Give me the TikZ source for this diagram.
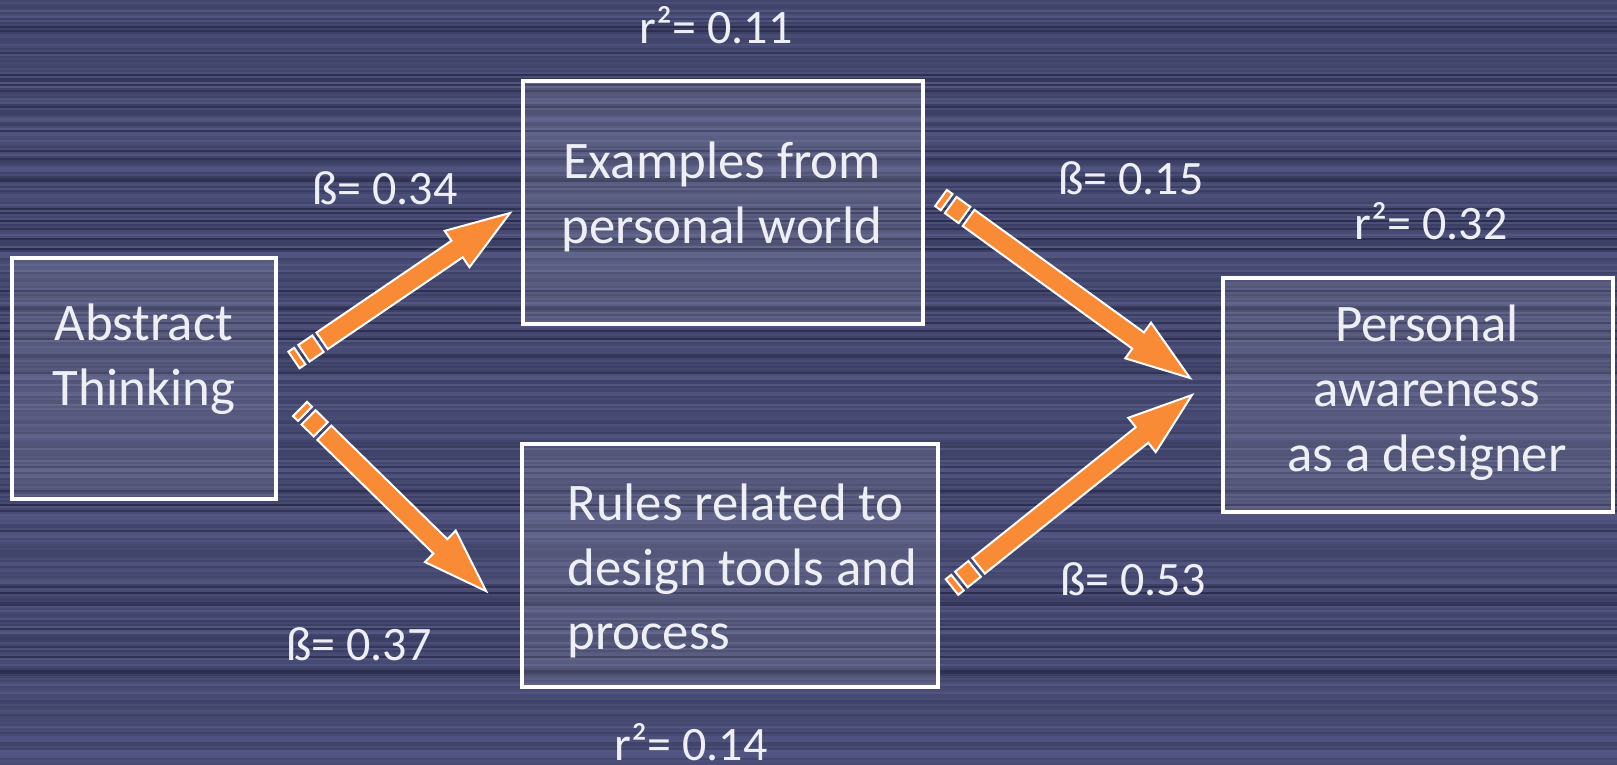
\documentclass[tikz,border=0pt]{standalone}
\usepackage{fontspec}
\setmainfont{Carlito}
\usetikzlibrary{calc}
\definecolor{bgL}{RGB}{94,99,146}
\definecolor{bgD}{RGB}{38,40,70}
\definecolor{arrOrange}{RGB}{250,139,54}
\definecolor{txt}{RGB}{238,239,244}
\newcommand\stripearrow[2]{%
  \path let \p1=(#1), \p2=(#2) in \pgfextra{%
    \pgfmathsetmacro\SAang{atan2(\y2-\y1,\x2-\x1)}%
    \pgfmathsetmacro\SAlen{veclen(\x2-\x1,\y2-\y1)}%
    \xdef\SAang{\SAang}\xdef\SAlen{\SAlen}};
  \begin{scope}[shift={(#1)}, rotate=\SAang]
    \draw[sarrow] (0pt,-5pt) -- (3.5pt,-5pt) -- (3.5pt,5pt) -- (0pt,5pt) -- cycle;
    \draw[sarrow] (6pt,-5pt) -- (14.5pt,-5pt) -- (14.5pt,5pt) -- (6pt,5pt) -- cycle;
    \draw[sarrow] (17pt,-5pt) -- ({\SAlen pt-32pt},-5pt) -- ({\SAlen pt-32pt},-11pt)
      -- (\SAlen pt,0pt) -- ({\SAlen pt-32pt},11pt) -- ({\SAlen pt-32pt},5pt) -- (17pt,5pt) -- cycle;
  \end{scope}%
}
\tikzset{
  box/.style={draw=white, line width=1.6pt, fill=white, fill opacity=0.1, draw opacity=1, rectangle, inner sep=0pt},
  boxtext/.style={text=txt, font=\fontsize{26.4}{32.4}\selectfont, inner sep=0pt},
  coef/.style={text=txt, font=\fontsize{24}{29}\selectfont, inner sep=0pt, anchor=base},
  sarrow/.style={draw=white, line width=1pt, fill=arrOrange, line join=miter}
}
\begin{document}
\begin{tikzpicture}[x=0.5pt, y=-0.5pt]
\useasboundingbox (0,0) rectangle (1617,765);
% striped background
\pgfmathsetseed{11}
\foreach \i in {0,...,382}{
  \pgfmathsetmacro\q{rnd}
  \pgfmathtruncatemacro\p{\q<0.12 ? 8+20*rnd : 38+42*rnd}
  \fill[bgL!\p!bgD] (0,{2*\i}) rectangle (1617,{2*\i+2.3});
}
% boxes
\node[box, minimum width=132pt, minimum height=120.5pt] (abs) at (144,378.5) {};
\node[box, minimum width=200pt, minimum height=121.5pt] (ex) at (723,202.5) {};
\node[box, minimum width=208pt, minimum height=121.5pt] (rul) at (730,565.5) {};
\node[box, minimum width=195pt, minimum height=117pt] (pers) at (1418,395) {};
% box texts
\node[boxtext, align=center] (absT) at (144,359) {Abstract\\Thinking};
\node[boxtext, align=center] (exT) at (722,197) {Examples from\\personal world};
\node[boxtext, align=left, anchor=west] (rulT) at (567,571) {Rules related to\\design tools and\\process};
\node[boxtext, align=center] (persT) at (1427,392.5) {Personal\\awareness\\as a designer};
% coefficients
\node[coef] (r1) at (716,44) {r²= 0.11};
\node[coef] (b1) at (385,205) {ß= 0.34};
\node[coef] (b2) at (1131,194) {ß= 0.15};
\node[coef] (r2) at (1431,239) {r²= 0.32};
\node[coef] (b3) at (1133,595) {ß= 0.53};
\node[coef] (b4) at (359,660) {ß= 0.37};
\node[coef] (r3) at (691,760) {r²= 0.14};
% arrow ends
\coordinate (a1s) at (294,360); \coordinate (a1e) at (510,213);
\coordinate (a2s) at (300,409); \coordinate (a2e) at (487,592);
\coordinate (a3s) at (941,198); \coordinate (a3e) at (1190,378);
\coordinate (a4s) at (952,587); \coordinate (a4e) at (1192,395);
\stripearrow{a1s}{a1e}
\stripearrow{a2s}{a2e}
\stripearrow{a3s}{a3e}
\stripearrow{a4s}{a4e}
\end{tikzpicture}
\end{document}
